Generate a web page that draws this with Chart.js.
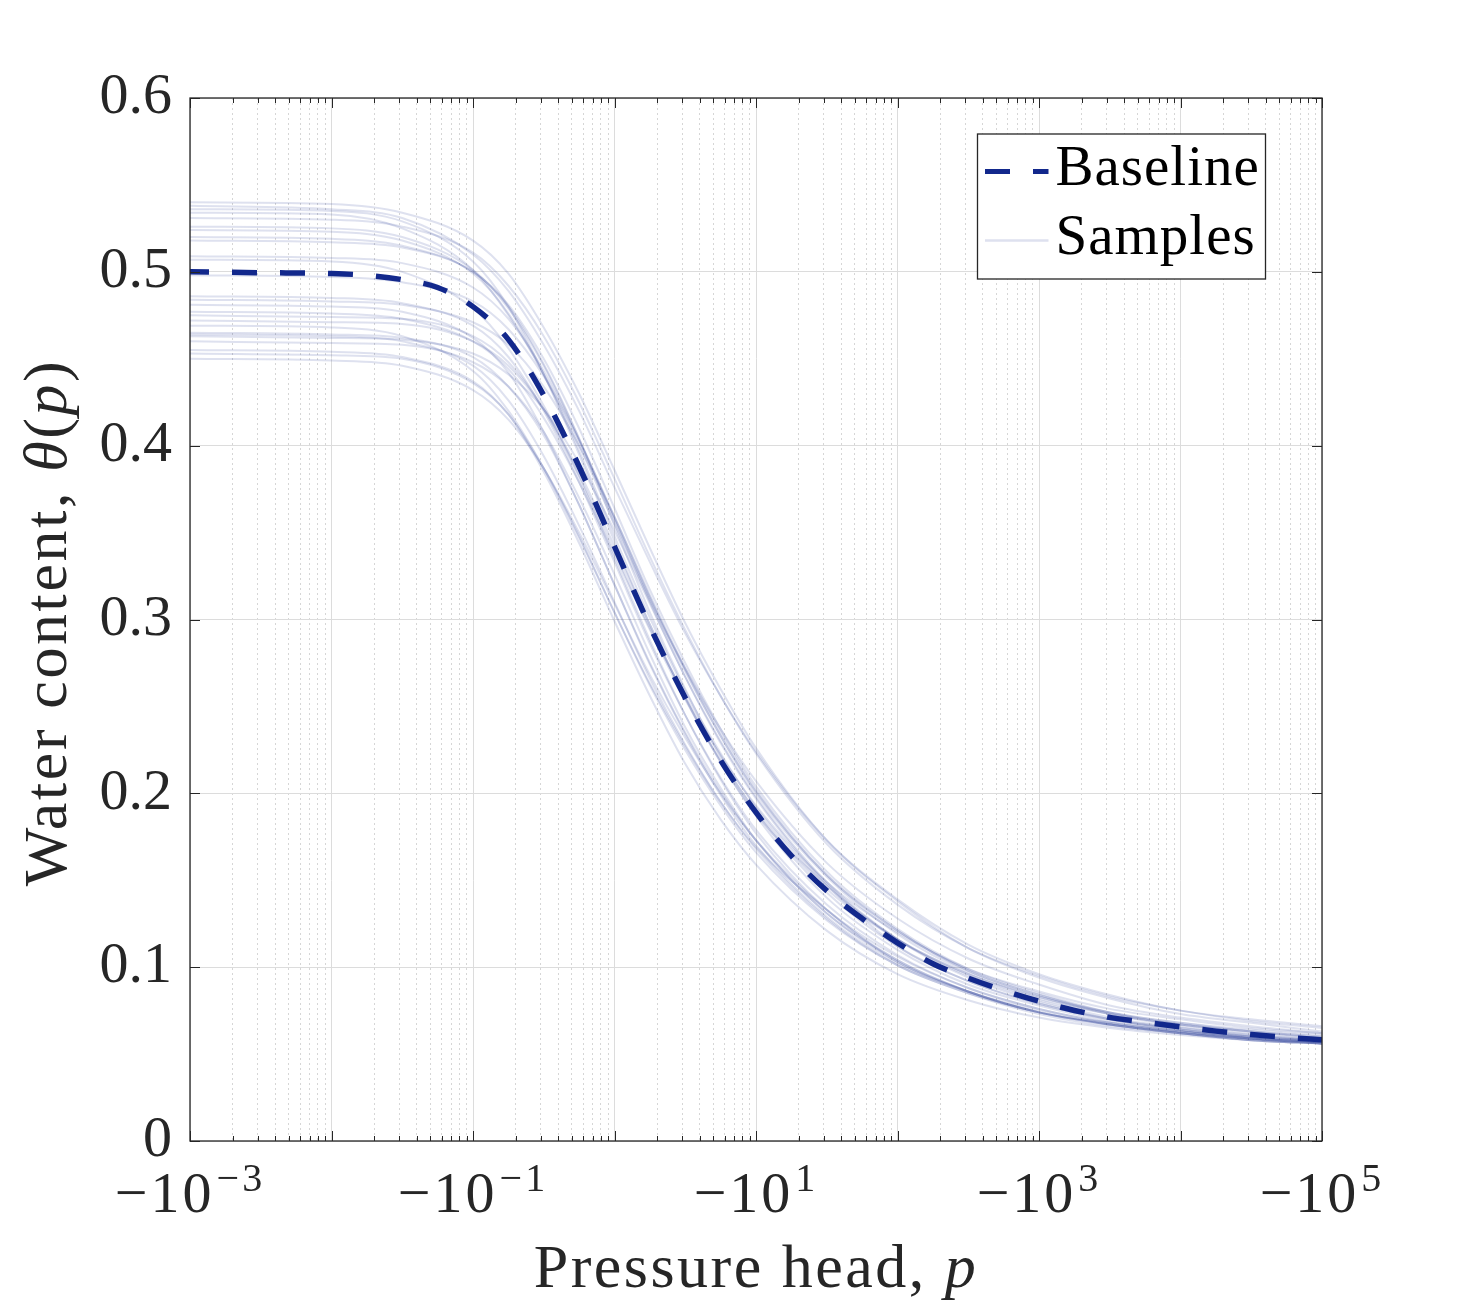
<!DOCTYPE html>
<html>
<head>
<meta charset="utf-8">
<script src="https://cdn.jsdelivr.net/npm/chart.js@4.4.0/dist/chart.umd.min.js"></script>
<style>
  html, body { margin: 0; padding: 0; background: #ffffff; }
  canvas { display: block; }
</style>
</head>
<body>
<canvas id="chart" width="1461" height="1311"></canvas>
<script>
// ---------------- data ----------------
const baselinePressure = [-0.001, -0.00316, -0.01, -0.0178, -0.0316, -0.0562, -0.1, -0.178, -0.316, -0.562,
  -1, -1.78, -3.16, -5.62, -10, -17.8, -31.6, -56.2, -100, -178, -316, -562,
  -1000, -1780, -3160, -5620, -10000, -17800, -31600, -56200, -100000];
const baselineTheta = [0.500, 0.4995, 0.499, 0.498, 0.4955, 0.491, 0.480, 0.461, 0.429, 0.388,
  0.342, 0.296, 0.255, 0.219, 0.189, 0.164, 0.144, 0.128, 0.114, 0.102, 0.0937, 0.0866,
  0.0804, 0.0751, 0.0711, 0.0683, 0.0656, 0.0632, 0.0612, 0.0596, 0.0583];

const samplePressure = [-0.001, -0.01, -0.0316, -0.1, -0.178, -0.316, -0.562, -1, -1.78, -3.16,
  -5.62, -10, -31.6, -100, -316, -1000, -3160, -10000, -31600, -100000];

const sample01 = [0.540, 0.539, 0.534, 0.518, 0.499, 0.468, 0.430, 0.386, 0.341, 0.298, 0.260, 0.226, 0.173, 0.138, 0.111, 0.094, 0.082, 0.073, 0.068, 0.063];
const sample02 = [0.538, 0.536, 0.531, 0.510, 0.489, 0.458, 0.420, 0.376, 0.333, 0.292, 0.256, 0.224, 0.173, 0.139, 0.113, 0.096, 0.084, 0.075, 0.070, 0.066];
const sample03 = [0.536, 0.535, 0.529, 0.506, 0.480, 0.441, 0.395, 0.345, 0.297, 0.255, 0.218, 0.188, 0.147, 0.112, 0.092, 0.079, 0.070, 0.064, 0.060, 0.057];
const sample04 = [0.534, 0.533, 0.525, 0.501, 0.475, 0.441, 0.400, 0.355, 0.311, 0.272, 0.237, 0.207, 0.160, 0.128, 0.105, 0.090, 0.078, 0.071, 0.066, 0.062];
const sample05 = [0.531, 0.530, 0.526, 0.511, 0.492, 0.463, 0.425, 0.381, 0.336, 0.294, 0.256, 0.223, 0.171, 0.136, 0.111, 0.095, 0.083, 0.075, 0.069, 0.065];
const sample06 = [0.526, 0.525, 0.520, 0.501, 0.479, 0.446, 0.404, 0.358, 0.312, 0.270, 0.233, 0.201, 0.153, 0.121, 0.098, 0.084, 0.073, 0.066, 0.061, 0.058];
const sample07 = [0.524, 0.523, 0.518, 0.499, 0.476, 0.441, 0.397, 0.348, 0.301, 0.259, 0.223, 0.192, 0.147, 0.116, 0.096, 0.082, 0.073, 0.067, 0.063, 0.060];
const sample08 = [0.520, 0.519, 0.515, 0.500, 0.481, 0.450, 0.410, 0.364, 0.317, 0.275, 0.237, 0.204, 0.155, 0.122, 0.099, 0.085, 0.074, 0.067, 0.063, 0.059];
const sample09 = [0.518, 0.517, 0.514, 0.500, 0.480, 0.447, 0.404, 0.354, 0.304, 0.260, 0.221, 0.189, 0.143, 0.112, 0.092, 0.079, 0.070, 0.065, 0.061, 0.058];
const sample10 = [0.509, 0.508, 0.505, 0.491, 0.473, 0.443, 0.403, 0.357, 0.310, 0.267, 0.229, 0.197, 0.148, 0.116, 0.095, 0.081, 0.071, 0.065, 0.060, 0.057];
const sample11 = [0.507, 0.506, 0.500, 0.479, 0.456, 0.423, 0.383, 0.339, 0.295, 0.256, 0.222, 0.193, 0.149, 0.120, 0.099, 0.086, 0.076, 0.070, 0.065, 0.062];
const sample12 = [0.498, 0.497, 0.494, 0.483, 0.467, 0.440, 0.403, 0.359, 0.313, 0.271, 0.233, 0.200, 0.152, 0.119, 0.097, 0.083, 0.073, 0.067, 0.062, 0.059];
const sample13 = [0.486, 0.485, 0.482, 0.469, 0.451, 0.420, 0.379, 0.333, 0.286, 0.245, 0.209, 0.179, 0.136, 0.107, 0.088, 0.076, 0.068, 0.063, 0.059, 0.056];
const sample14 = [0.484, 0.483, 0.481, 0.471, 0.458, 0.434, 0.400, 0.359, 0.314, 0.272, 0.235, 0.202, 0.153, 0.121, 0.098, 0.084, 0.074, 0.068, 0.063, 0.060];
const sample15 = [0.481, 0.480, 0.477, 0.462, 0.442, 0.408, 0.366, 0.320, 0.275, 0.235, 0.201, 0.173, 0.131, 0.104, 0.086, 0.074, 0.067, 0.062, 0.058, 0.056];
const sample16 = [0.477, 0.476, 0.473, 0.460, 0.444, 0.416, 0.379, 0.337, 0.294, 0.254, 0.219, 0.190, 0.145, 0.116, 0.096, 0.083, 0.074, 0.068, 0.064, 0.061];
const sample17 = [0.475, 0.474, 0.473, 0.463, 0.448, 0.421, 0.382, 0.335, 0.288, 0.245, 0.208, 0.177, 0.133, 0.104, 0.086, 0.074, 0.067, 0.062, 0.059, 0.057];
const sample18 = [0.472, 0.471, 0.470, 0.460, 0.446, 0.421, 0.385, 0.342, 0.297, 0.255, 0.218, 0.187, 0.140, 0.110, 0.090, 0.078, 0.069, 0.064, 0.060, 0.058];
const sample19 = [0.469, 0.468, 0.463, 0.443, 0.420, 0.387, 0.347, 0.304, 0.263, 0.227, 0.195, 0.169, 0.133, 0.103, 0.086, 0.075, 0.067, 0.062, 0.058, 0.056];
const sample20 = [0.465, 0.464, 0.462, 0.451, 0.434, 0.406, 0.366, 0.320, 0.274, 0.234, 0.199, 0.170, 0.129, 0.102, 0.086, 0.074, 0.068, 0.063, 0.060, 0.058];
const sample21 = [0.464, 0.463, 0.460, 0.446, 0.426, 0.394, 0.354, 0.310, 0.266, 0.228, 0.195, 0.168, 0.128, 0.101, 0.085, 0.073, 0.066, 0.062, 0.058, 0.056];
const sample22 = [0.463, 0.462, 0.461, 0.453, 0.441, 0.421, 0.390, 0.351, 0.309, 0.267, 0.230, 0.198, 0.149, 0.116, 0.094, 0.080, 0.070, 0.064, 0.059, 0.056];
const sample23 = [0.460, 0.459, 0.458, 0.448, 0.434, 0.408, 0.370, 0.326, 0.280, 0.238, 0.203, 0.173, 0.131, 0.103, 0.086, 0.074, 0.067, 0.063, 0.059, 0.057];
const sample24 = [0.455, 0.454, 0.451, 0.437, 0.418, 0.387, 0.348, 0.304, 0.262, 0.225, 0.193, 0.166, 0.127, 0.101, 0.085, 0.074, 0.067, 0.062, 0.059, 0.057];
const sample25 = [0.453, 0.452, 0.450, 0.436, 0.418, 0.385, 0.344, 0.299, 0.256, 0.217, 0.185, 0.159, 0.121, 0.096, 0.081, 0.071, 0.065, 0.061, 0.058, 0.056];
const sample26 = [0.450, 0.449, 0.446, 0.432, 0.415, 0.387, 0.350, 0.309, 0.268, 0.232, 0.200, 0.173, 0.133, 0.106, 0.088, 0.076, 0.068, 0.063, 0.059, 0.057];

const samplesTheta = [sample01, sample02, sample03, sample04, sample05, sample06, sample07, sample08, sample09,
  sample10, sample11, sample12, sample13, sample14, sample15, sample16, sample17, sample18, sample19,
  sample20, sample21, sample22, sample23, sample24, sample25, sample26];

const seriesLabels = ['Baseline', 'Samples'];
const yTickValues = [0, 0.1, 0.2, 0.3, 0.4, 0.5, 0.6];
const yTickLabels = ['0', '0.1', '0.2', '0.3', '0.4', '0.5', '0.6'];
const xDecadeExponents = [-3, -2, -1, 0, 1, 2, 3, 4, 5];
const xLabelExponents = [-3, -1, 1, 3, 5];
const xTitleParts = [['Pressure head, ', false], ['p', true]];
const yTitleParts = [['Water content, ', false], ['\u03B8', true], ['(', false], ['p', true], [')', false]];

// ---------------- styling ----------------
const BASE_COLOR = '#12288c';
const SAMPLE_COLOR = 'rgba(18, 40, 140, 0.14)';
const AXIS_COLOR = '#262626';
const GRID_MAJOR = '#dcdcdc';
const GRID_MINOR = '#d6d6d6';
const SERIF = '"Liberation Serif", "Times New Roman", serif';
const TICK_FS = 58;
const SUP_FS = 40;
const TITLE_FS = 62;
const LEGEND_FS = 57;

// log-axis grid values: every integer multiple inside each decade
const xGridValues = [];
xDecadeExponents.forEach(e => {
  if (e === 5) { xGridValues.push(1e5); return; }
  for (let m = 1; m <= 9; m++) xGridValues.push(m * Math.pow(10, e));
});
const isDecade = v => {
  const l = Math.log10(v);
  return Math.abs(l - Math.round(l)) < 1e-6;
};

const datasets = [{
  label: seriesLabels[0],
  data: baselinePressure.map((p, i) => ({ x: -p, y: baselineTheta[i] })),
  borderColor: BASE_COLOR,
  borderWidth: 5.5,
  borderDash: [25, 23],
  borderDashOffset: 6,
  borderCapStyle: 'butt',
  pointRadius: 0,
  cubicInterpolationMode: 'monotone',
  fill: false
}];
samplesTheta.forEach((arr, j) => {
  datasets.push({
    label: j === 0 ? seriesLabels[1] : '',
    data: samplePressure.map((p, i) => ({ x: -p, y: arr[i] })),
    borderColor: SAMPLE_COLOR,
    borderWidth: 2,
    pointRadius: 0,
    cubicInterpolationMode: 'monotone',
    fill: false
  });
});

function drawParts(ctx, parts, size, cx, baseY, spacing) {
  const widths = parts.map(([t, it]) => {
    ctx.font = (it ? 'italic ' : '') + size + 'px ' + SERIF;
    ctx.letterSpacing = spacing + 'px';
    return ctx.measureText(t).width;
  });
  const total = widths.reduce((a, b) => a + b, 0);
  let x = cx - total / 2;
  parts.forEach(([t, it], i) => {
    ctx.font = (it ? 'italic ' : '') + size + 'px ' + SERIF;
    ctx.letterSpacing = spacing + 'px';
    ctx.fillText(t, x, baseY);
    x += widths[i];
  });
  ctx.letterSpacing = '0px';
}

const framePlugin = {
  id: 'matlabFrame',
  afterDraw(chart) {
    const { ctx, chartArea: a, scales: { x, y } } = chart;
    ctx.save();
    // inward tick marks on all four sides
    ctx.strokeStyle = AXIS_COLOR;
    ctx.lineWidth = 1;
    ctx.beginPath();
    x.ticks.forEach(t => {
      const px = Math.round(x.getPixelForValue(t.value)) + 0.5;
      const len = isDecade(t.value) ? 10 : 5;
      ctx.moveTo(px, a.bottom); ctx.lineTo(px, a.bottom - len);
      ctx.moveTo(px, a.top); ctx.lineTo(px, a.top + len);
    });
    y.ticks.forEach(t => {
      const py = Math.round(y.getPixelForValue(t.value)) + 0.5;
      ctx.moveTo(a.left, py); ctx.lineTo(a.left + 10, py);
      ctx.moveTo(a.right, py); ctx.lineTo(a.right - 10, py);
    });
    ctx.stroke();
    // axes box
    ctx.lineWidth = 1.3;
    ctx.strokeRect(a.left, a.top, a.right - a.left, a.bottom - a.top);

    // x tick labels  (−10^k)
    ctx.fillStyle = AXIS_COLOR;
    ctx.textAlign = 'left';
    ctx.textBaseline = 'alphabetic';
    xLabelExponents.forEach(e => {
      const cx = x.getPixelForValue(Math.pow(10, e));
      const base = '\u221210';
      const sup = (e < 0 ? '\u2212' : '') + Math.abs(e);
      ctx.letterSpacing = '3px';
      ctx.font = TICK_FS + 'px ' + SERIF;
      const wb = ctx.measureText(base).width;
      ctx.font = SUP_FS + 'px ' + SERIF;
      const ws = ctx.measureText(sup).width;
      const gap = 2;
      let sx = cx - (wb + gap + ws) / 2;
      const baseY = a.bottom + 71;
      ctx.font = TICK_FS + 'px ' + SERIF;
      ctx.fillText(base, sx, baseY);
      ctx.font = SUP_FS + 'px ' + SERIF;
      ctx.fillText(sup, sx + wb + gap, baseY - 21);
      ctx.letterSpacing = '0px';
    });

    // axis titles
    ctx.fillStyle = AXIS_COLOR;
    drawParts(ctx, xTitleParts, TITLE_FS, (a.left + a.right) / 2, a.bottom + 146, 2.5);
    ctx.save();
    ctx.translate(66, (a.top + a.bottom) / 2 + 3);
    ctx.rotate(-Math.PI / 2);
    drawParts(ctx, yTitleParts, TITLE_FS, 0, 0, 2.6);
    ctx.restore();

    // legend box (top-right, inside the axes)
    const lw = 288, lh = 145;
    const lx = a.right - 56.5 - lw, ly = a.top + 36;
    ctx.fillStyle = '#ffffff';
    ctx.fillRect(lx, ly, lw, lh);
    ctx.strokeStyle = AXIS_COLOR;
    ctx.lineWidth = 1.3;
    ctx.strokeRect(lx, ly, lw, lh);
    const rows = [datasets[0], datasets[1]];
    const rowY = [ly + 37.5, ly + 106.5];
    rows.forEach((ds, i) => {
      ctx.save();
      ctx.strokeStyle = ds.borderColor;
      ctx.lineWidth = i === 0 ? 5 : 2.5;
      ctx.setLineDash(ds.borderDash || []);
      ctx.beginPath();
      ctx.moveTo(lx + 7.5, rowY[i]);
      ctx.lineTo(lx + 71, rowY[i]);
      ctx.stroke();
      ctx.restore();
      ctx.fillStyle = '#000000';
      ctx.font = LEGEND_FS + 'px ' + SERIF;
      ctx.letterSpacing = '1px';
      ctx.textAlign = 'left';
      ctx.textBaseline = 'alphabetic';
      ctx.fillText(ds.label, lx + 78, rowY[i] + 13);
      ctx.letterSpacing = '0px';
    });
    ctx.restore();
  }
};

new Chart(document.getElementById('chart').getContext('2d'), {
  type: 'line',
  data: { datasets },
  options: {
    responsive: false,
    animation: false,
    devicePixelRatio: 1,
    events: [],
    layout: { padding: { left: 0, top: 98, right: 139, bottom: 0 } },
    plugins: { legend: { display: false }, tooltip: { enabled: false }, title: { display: false } },
    scales: {
      x: {
        type: 'logarithmic',
        position: 'bottom',
        min: 1e-3,
        max: 1e5,
        afterBuildTicks: s => { s.ticks = xGridValues.map(v => ({ value: v })); },
        afterFit: s => { s.height = 170; },
        ticks: { display: false },
        grid: {
          drawTicks: false,
          lineWidth: 1,
          color: c => (c.tick && !isDecade(c.tick.value)) ? GRID_MINOR : GRID_MAJOR
        },
        border: {
          display: false,
          dash: c => (c.tick && !isDecade(c.tick.value)) ? [2, 3] : []
        }
      },
      y: {
        type: 'linear',
        position: 'left',
        min: 0,
        max: 0.6,
        afterBuildTicks: s => { s.ticks = yTickValues.map(v => ({ value: v })); },
        afterFit: s => { s.width = 190; },
        ticks: {
          padding: 18,
          color: AXIS_COLOR,
          font: { family: SERIF, size: TICK_FS },
          callback: (v, i) => yTickLabels[i]
        },
        grid: { drawTicks: false, lineWidth: 1, color: GRID_MAJOR },
        border: { display: false }
      }
    }
  },
  plugins: [framePlugin]
});
</script>
</body>
</html>
